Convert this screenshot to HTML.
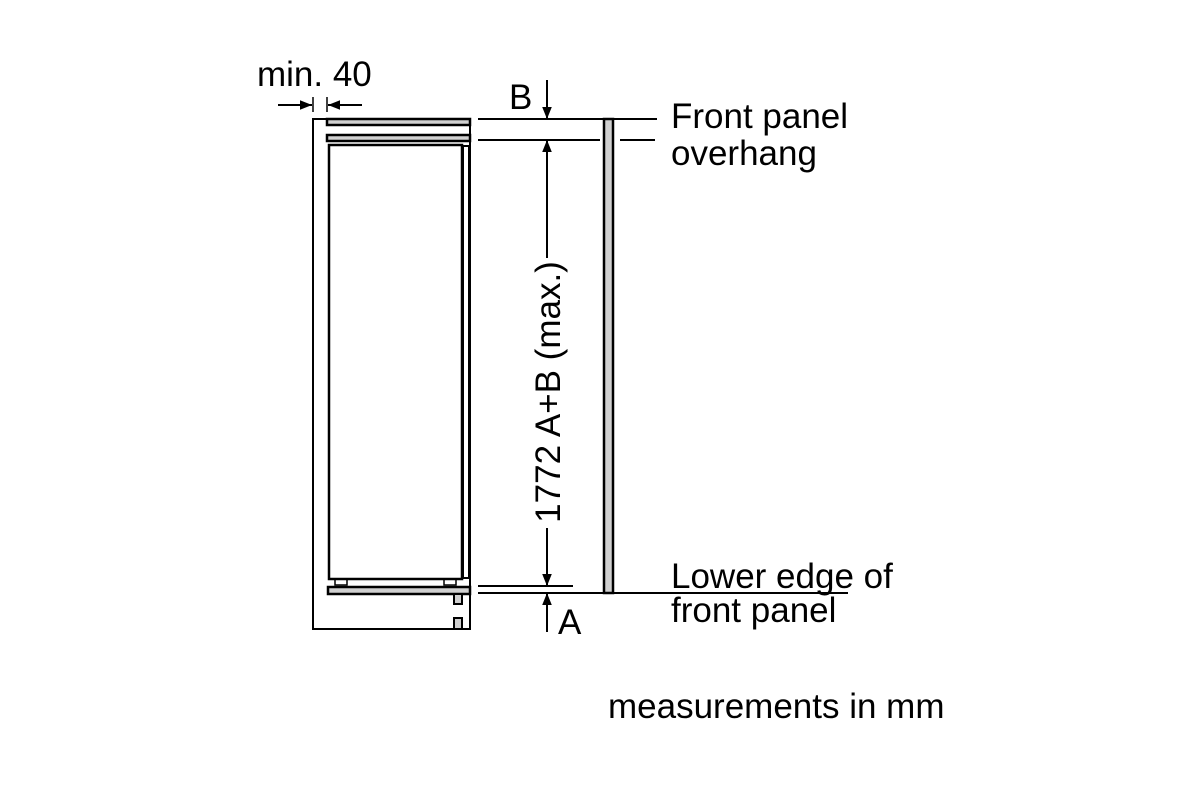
<!DOCTYPE html>
<html><head><style>body{margin:0;background:#fff}svg{display:block}</style></head><body>
<svg width="1200" height="800" xmlns="http://www.w3.org/2000/svg" font-family="Liberation Sans, Arial, sans-serif" fill="#000">
<defs><marker id="ar" viewBox="0 0 10 10" refX="10" refY="5" markerWidth="12" markerHeight="12" markerUnits="userSpaceOnUse" orient="auto"><path d="M0,1 L10,5 L0,9 z"/></marker></defs>
<g stroke="#000" stroke-width="2" fill="none">
<path d="M313,119 V629 H470 V119 Z" fill="#fff"/>
<rect x="327" y="119" width="143" height="6" fill="#d0d0d0" stroke-width="2.5"/>
<rect x="327" y="135" width="143" height="6" fill="#d0d0d0" stroke-width="2.5"/>
<rect x="329" y="145" width="133" height="434" stroke-width="2.5"/>
<rect x="463" y="146" width="6" height="432" stroke-width="2"/>
<rect x="335" y="579" width="12" height="6" stroke-width="1.5"/>
<rect x="444" y="579" width="12" height="6" stroke-width="1.5"/>
<rect x="328" y="587" width="142" height="7" fill="#d0d0d0" stroke-width="2.5"/>
<rect x="454" y="594" width="8" height="10" fill="#d0d0d0"/>
<rect x="454" y="618" width="8" height="11" fill="#d0d0d0"/>
<rect x="604" y="119" width="9" height="474" fill="#d0d0d0" stroke-width="2.5"/>
<line x1="478" y1="119" x2="657" y2="119"/>
<line x1="478" y1="140" x2="600" y2="140"/>
<line x1="620" y1="140" x2="655" y2="140"/>
<line x1="478" y1="586" x2="573" y2="586"/>
<line x1="478" y1="593" x2="848" y2="593"/>
<line x1="547" y1="80" x2="547" y2="119" marker-end="url(#ar)"/>
<line x1="547" y1="258" x2="547" y2="140" marker-end="url(#ar)"/>
<line x1="547" y1="528" x2="547" y2="586" marker-end="url(#ar)"/>
<line x1="547" y1="632" x2="547" y2="593" marker-end="url(#ar)"/>
<line x1="278" y1="105" x2="312" y2="105" marker-end="url(#ar)"/>
<line x1="362" y1="105" x2="328" y2="105" marker-end="url(#ar)"/>
<line x1="327" y1="97" x2="327" y2="112" stroke-width="1.5"/>
<line x1="313" y1="97" x2="313" y2="112" stroke-width="1.5"/>
</g>
<g font-size="35">
<text x="257" y="86">min. 40</text>
<text x="509" y="109">B</text>
<text x="558" y="634">A</text>
<text x="671" y="128">Front panel</text>
<text x="671" y="165">overhang</text>
<text x="671" y="588">Lower edge of</text>
<text x="671" y="622">front panel</text>
<text x="608" y="718">measurements in mm</text>
<text transform="translate(560,392) rotate(-90)" text-anchor="middle">1772 A+B (max.)</text>
</g>
</svg>
</body></html>
